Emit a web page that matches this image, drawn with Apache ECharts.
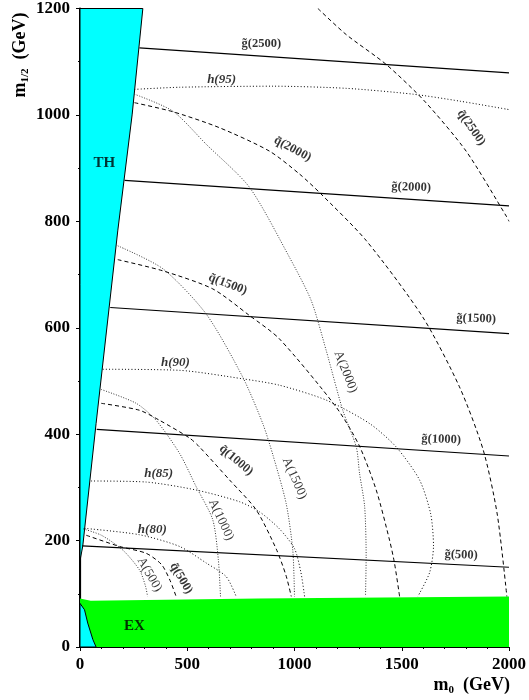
<!DOCTYPE html>
<html><head><meta charset="utf-8">
<script src="https://cdn.jsdelivr.net/npm/echarts@6/dist/echarts.min.js"></script>
<style>html,body{margin:0;padding:0;background:#fff}#c{width:529px;height:700px}</style>
</head><body><div id="c"></div>
<script>
// Regions
const thBoundary = [[0,162],[13,190],[75,420],[176,782],[243,1000],[293,1200]];
const thCorner = [[0,82],[21,70],[36,45],[60,14],[75,0]];
const exTop = [[0,91],[50,87],[830,91],[2000,95]];
// Gluino mass contours (solid)
const g500 = [[10,190],[2000,150]];
const g1000 = [[78,409],[2000,359]];
const g1500 = [[141,638],[2000,589]];
const g2000 = [[208,877],[2000,829]];
const g2500 = [[277,1126],[2000,1079]];
// Squark mass contours (dashed)
const q500 = [[29,210],[184,189],[309,176],[380,155],[420,125],[448,95]];
const q1000 = [[99,458],[277,445],[371,426],[510,393],[557,376],[697,314],[821,258],[915,184],[960,135],[985,95]];
const q1500 = [[176,728],[386,707],[619,673],[790,623],[930,579],[1194,451],[1300,380],[1381,295],[1443,201],[1466,158],[1490,95]];
const q2000 = [[254,1023],[433,1006],[650,976],[883,932],[1023,889],[1117,854],[1334,764],[1598,620],[1769,489],[1880,370],[1945,250],[1990,95]];
const q2500 = [[1109,1200],[1241,1151],[1427,1095],[1606,1026],[1800,932],[1987,810],[2000,800]];
// Higgs mass contours (dotted)
const h80 = [[21,223],[277,211],[464,189],[588,158],[682,132],[728,95]];
const h85 = [[52,312],[309,310],[542,295],[744,273],[837,254],[930,222],[1000,185],[1030,140],[1047,95]];
const h90 = [[106,522],[464,520],[759,504],[930,492],[1148,464],[1350,420],[1474,376],[1583,314],[1635,250],[1648,190],[1630,140],[1575,95]];
const h95 = [[254,1048],[464,1052],[900,1054],[1240,1050],[1552,1039],[1769,1026],[2000,1010]];
// Pseudoscalar A mass contours (fine dotted)
const A500 = [[15,222],[100,210],[200,182],[277,145],[305,115],[315,95]];
const A1000 = [[99,484],[262,458],[355,426],[464,364],[542,301],[619,239],[645,164],[655,95]];
const A1500 = [[176,754],[386,711],[588,626],[759,507],[852,420],[900,360],[961,270],[992,182],[1000,95]];
const A2000 = [[254,1039],[433,1007],[588,945],[790,864],[977,732],[1078,651],[1148,557],[1225,445],[1288,376],[1303,327],[1327,264],[1334,170],[1331,95]];

// Annotations: [m0, m12, text, rotation(deg), kind]
const annotations = [
  [845,1134,'g\u0303(2500)',0,'g'],
  [660,1067,'h(95)',0,'h'],
  [1824,976,'q\u0303(2500)',-55,'g'],
  [991,936,'q\u0303(2000)',-28,'g'],
  [1544,864,'g\u0303(2000)',-2,'g'],
  [689,682,'q\u0303(1500)',-21,'g'],
  [1847,617,'g\u0303(1500)',-2,'g'],
  [1238,517,'A(2000)',-68,'A'],
  [445,535,'h(90)',0,'h'],
  [1684,390,'g\u0303(1000)',-2,'g'],
  [728,351,'q\u0303(1000)',-40,'g'],
  [1000,317,'A(1500)',-66,'A'],
  [367,325,'h(85)',0,'h'],
  [658,239,'A(1000)',-65,'A'],
  [337,220,'h(80)',0,'h'],
  [324,136,'A(500)',-60,'A'],
  [472,129,'q\u0303(500)',-60,'g'],
  [1777,173,'g\u0303(500)',-2,'g'],
  [114,909,'TH',0,'big'],
  [254,40,'EX',0,'big']
];

const SERIF = '"Liberation Serif","Times New Roman",serif';
const chart = echarts.init(document.getElementById('c'));

function polygonSeries(points, fill, stroke, z) {
  return {
    type: 'custom', z: z, silent: true, xAxisIndex: 0, yAxisIndex: 0,
    data: [[0,0]],
    renderItem: function (params, api) {
      const pts = points.map(p => api.coord(p));
      return { type: 'polygon', shape: { points: pts },
        style: { fill: fill, stroke: stroke || 'none', lineWidth: 1 } };
    }
  };
}
function lineSeries(data, style) {
  return { type: 'line', data: data, showSymbol: false, symbol: 'none', silent: true,
    smooth: 0.25, z: 5, lineStyle: style, xAxisIndex: 0, yAxisIndex: 0 };
}
const solid = { color: '#000', width: 1.1, type: 'solid' };
const dashed = { color: '#000', width: 1, type: [4, 3] };
const dotH = { color: '#000', width: 1, type: [1, 2.2] };
const dotA = { color: '#333', width: 1, type: [1, 1.6] };

const exPoly = [[0,0]].concat(exTop).concat([[2000,0]]);
const thPoly = thBoundary.concat([[0,1200]]);
const cornerPoly = [[0,0]].concat(thCorner);

const labelData = annotations.map(a => {
  const kind = a[4];
  let lab = { show: true, position: 'inside', formatter: a[2], rotate: a[3],
    fontFamily: SERIF, color: '#000', fontWeight: 'bold', fontSize: 12.5 };
  if (kind === 'h') { lab.fontStyle = 'italic'; lab.fontSize = 13; }
  if (kind === 'A') { lab.fontWeight = 'normal'; lab.fontSize = 13; }
  if (kind === 'big') { lab.fontSize = 15; }
  return { value: [a[0], a[1]], label: lab };
});

const plain = v => String(v);

chart.setOption({
  animation: false,
  grid: { left: 80, right: 20, top: 7, bottom: 53 },
  xAxis: [{
    type: 'value', min: 0, max: 2000, interval: 500,
    axisLine: { show: true, onZero: false, lineStyle: { color: '#000', width: 1.2 } },
    axisTick: { show: true, length: 4, lineStyle: { color: '#000' } },
    minorTick: { show: true, splitNumber: 5, length: 2, lineStyle: { color: '#000' } },
    splitLine: { show: false },
    axisLabel: { margin: 9, formatter: plain, fontFamily: SERIF, fontWeight: 'bold', fontSize: 17, color: '#000' }
  }, {
    type: 'value', min: 0, max: 2000, position: 'top',
    axisLine: { show: true, lineStyle: { color: '#000', width: 1 } },
    axisTick: { show: false }, axisLabel: { show: false }, splitLine: { show: false }
  }],
  yAxis: [{
    type: 'value', min: 0, max: 1200, interval: 200,
    axisLine: { show: true, onZero: false, lineStyle: { color: '#000', width: 1.2 } },
    axisTick: { show: true, length: 4, lineStyle: { color: '#000' } },
    minorTick: { show: true, splitNumber: 2, length: 2, lineStyle: { color: '#000' } },
    splitLine: { show: false },
    axisLabel: { margin: 10, formatter: plain, fontFamily: SERIF, fontWeight: 'bold', fontSize: 17, color: '#000' }
  }, {
    type: 'value', min: 0, max: 1200, position: 'right',
    axisLine: { show: true, lineStyle: { color: '#000', width: 2 } },
    axisTick: { show: false }, axisLabel: { show: false }, splitLine: { show: false }
  }],
  graphic: [
    { type: 'text', x: 20, y: 55, rotation: Math.PI / 2, z: 10,
      style: { text: '{m|m}{s|1/2}{m|  (GeV)}', align: 'center', verticalAlign: 'middle',
        rich: {
          m: { fontFamily: SERIF, fontWeight: 'bold', fontSize: 18, fill: '#000', lineHeight: 22 },
          s: { fontFamily: SERIF, fontWeight: 'bold', fontSize: 11, fill: '#000', verticalAlign: 'bottom', lineHeight: 12 }
        } } },
    { type: 'text', x: 510, y: 685, z: 10,
      style: { text: '{m|m}{s|0}{m|  (GeV)}', align: 'right', verticalAlign: 'middle',
        rich: {
          m: { fontFamily: SERIF, fontWeight: 'bold', fontSize: 18, fill: '#000', lineHeight: 22 },
          s: { fontFamily: SERIF, fontWeight: 'bold', fontSize: 11, fill: '#000', verticalAlign: 'bottom', lineHeight: 12 }
        } } }
  ],
  series: [
    polygonSeries(exPoly, '#00ff00', null, 1),
    polygonSeries(cornerPoly, '#00ffff', '#000', 2),
    polygonSeries(thPoly, '#00ffff', '#000', 2),
    lineSeries(g500, solid), lineSeries(g1000, solid), lineSeries(g1500, solid),
    lineSeries(g2000, solid), lineSeries(g2500, solid),
    lineSeries(q500, dashed), lineSeries(q1000, dashed), lineSeries(q1500, dashed),
    lineSeries(q2000, dashed), lineSeries(q2500, dashed),
    lineSeries(h80, dotH), lineSeries(h85, dotH), lineSeries(h90, dotH), lineSeries(h95, dotH),
    lineSeries(A500, dotA), lineSeries(A1000, dotA), lineSeries(A1500, dotA), lineSeries(A2000, dotA),
    { type: 'scatter', silent: true, z: 8, symbolSize: 1, itemStyle: { color: 'transparent' },
      data: labelData }
  ]
});
</script></body></html>
